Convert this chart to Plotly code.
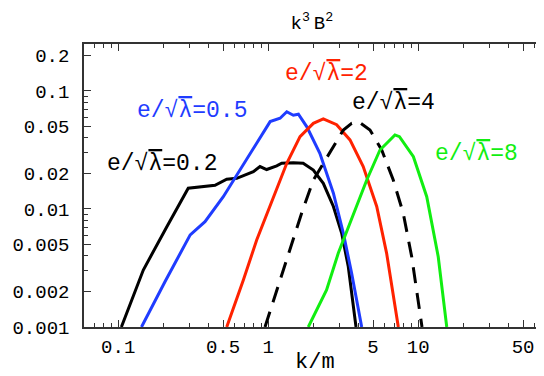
import plotly.graph_objects as go

# data (k/m, k^3 B^2)
k_02 = [0.105, 0.147, 0.211, 0.293, 0.442, 0.529, 0.617, 0.796, 0.882, 0.977, 1.14, 1.23, 1.47, 1.71, 2.0, 2.33, 2.72, 3.09, 3.42, 3.85]
B_02 = [0.001, 0.00304, 0.00708, 0.0150, 0.0159, 0.0179, 0.0182, 0.0207, 0.0229, 0.0216, 0.0232, 0.0244, 0.0247, 0.0244, 0.0214, 0.0165, 0.0105, 0.00622, 0.00324, 0.001]

k_05 = [0.143, 0.205, 0.302, 0.379, 0.502, 0.649, 0.838, 1.03, 1.2, 1.33, 1.47, 1.59, 1.81, 2.21, 2.72, 3.17, 3.60, 4.2]
B_05 = [0.001, 0.00242, 0.00603, 0.0078, 0.0127, 0.0214, 0.036, 0.055, 0.0587, 0.0667, 0.0623, 0.0636, 0.0497, 0.0296, 0.0136, 0.00622, 0.00285, 0.001]

k_2 = [0.529, 0.683, 0.838, 1.08, 1.33, 1.63, 2.0, 2.33, 2.86, 3.51, 4.3, 5.29, 6.16, 7.37]
B_2 = [0.001, 0.0025, 0.00546, 0.0127, 0.0244, 0.041, 0.0532, 0.058, 0.0518, 0.0385, 0.0229, 0.0105, 0.00421, 0.001]

k_4 = [0.952, 1.14, 1.40, 1.67, 2.0, 2.72, 3.17, 3.6, 3.99, 4.77, 5.71, 6.82, 7.95, 9.05, 10.6]
B_4 = [0.001, 0.00206, 0.0045, 0.0092, 0.0176, 0.0337, 0.0467, 0.0532, 0.055, 0.0467, 0.0316, 0.0176, 0.0092, 0.00394, 0.001]

k_8 = [1.85, 2.45, 2.93, 3.70, 4.54, 5.56, 7.0, 7.5, 9.29, 11.4, 13.6, 15.5]
B_8 = [0.001, 0.00206, 0.00421, 0.0092, 0.0176, 0.0316, 0.0424, 0.041, 0.0277, 0.0127, 0.00394, 0.001]

x_ticks = [0.1, 0.5, 1, 5, 10, 50]
x_ticklabels = ["0.1", "0.5", "1", "5", "10", "50"]
y_ticks = [0.001, 0.002, 0.005, 0.01, 0.02, 0.05, 0.1, 0.2]
y_ticklabels = ["0.001", "0.002", "0.005", "0.01", "0.02", "0.05", "0.1", "0.2"]

x_minor = [0.06, 0.07, 0.08, 0.09, 0.2, 0.3, 0.4, 0.6, 0.7, 0.8, 0.9, 2, 3, 4, 6, 7, 8, 9, 20, 30, 40, 60]
y_minor = [0.003, 0.004, 0.006, 0.007, 0.008, 0.009, 0.03, 0.04, 0.06, 0.07, 0.08, 0.09]

BLUE = "#1f3cff"
RED = "#ff2200"
GREEN = "#11ee11"
FONT = "Liberation Mono"

fig = go.Figure()
lw = 3
fig.add_trace(go.Scatter(x=k_02, y=B_02, mode="lines", line=dict(color="black", width=lw)))
fig.add_trace(go.Scatter(x=k_05, y=B_05, mode="lines", line=dict(color=BLUE, width=lw)))
fig.add_trace(go.Scatter(x=k_2, y=B_2, mode="lines", line=dict(color=RED, width=lw)))
fig.add_trace(go.Scatter(x=k_4, y=B_4, mode="lines", line=dict(color="black", width=lw, dash="16px,10px")))
fig.add_trace(go.Scatter(x=k_8, y=B_8, mode="lines", line=dict(color=GREEN, width=lw)))

lab = "e/√<span style='text-decoration:overline'>λ</span>="
annots = [
    (-0.505, -1.169, lab + "0.5", BLUE),
    (0.389, -0.856, lab + "2", RED),
    (0.835, -1.102, lab + "4", "black"),
    (1.389, -1.534, lab + "8", GREEN),
    (-0.705, -1.619, lab + "0.2", "black"),
]
for ax_, ay_, t, c in annots:
    fig.add_annotation(x=ax_, y=ay_, text=t, showarrow=False, xref="x", yref="y",
                       font=dict(family=FONT, size=23, color=c))

fig.add_annotation(x=0.503, y=-0.127, xref="paper", yref="paper", text="k/m", showarrow=False,
                   xanchor="center", yanchor="middle",
                   font=dict(family="Liberation Mono", size=22, color="black"))

axis_common = dict(showgrid=False, zeroline=False, showline=True, linecolor="#333", linewidth=1.5,
                   mirror="ticks", ticks="inside", ticklen=7, tickcolor="#333", tickwidth=1,
                   automargin=False,
                   tickfont=dict(family=FONT, size=19, color="black"))

fig.update_xaxes(type="log", range=[-1.228, 1.832], tickvals=x_ticks, ticktext=x_ticklabels,
                 minor=dict(tickvals=x_minor, ticks="inside", ticklen=4, tickcolor="#333", showgrid=False),
                 ticklabelstandoff=1,
                 **axis_common)
fig.update_yaxes(type="log", range=[-3, -0.602], tickvals=y_ticks, ticktext=y_ticklabels,
                 minor=dict(tickvals=y_minor, ticks="inside", ticklen=4, tickcolor="#333", showgrid=False),
                 ticklabelstandoff=9,
                 **axis_common)

# page body has an 8px margin, so the figure is sized/placed to compensate
fig.update_layout(
    width=536, height=368,
    margin=dict(l=76, r=1, t=36, b=49),
    paper_bgcolor="white", plot_bgcolor="white",
    showlegend=False,
    title=dict(text="k<sup>3</sup>\u2009B<sup>2</sup>", x=0.567, xanchor="center", y=0.962, yanchor="middle",
               font=dict(family="Liberation Mono", size=19, color="black")),
)

fig.write_html("out.html")
